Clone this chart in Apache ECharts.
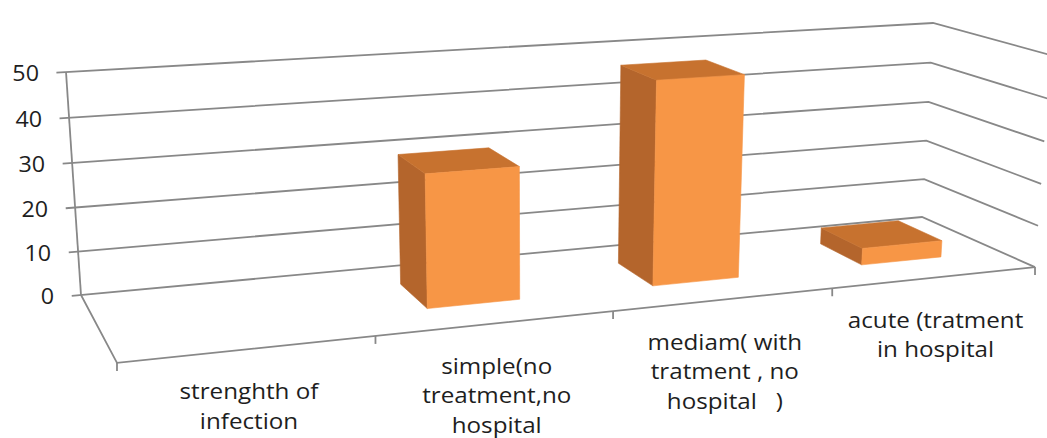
<!DOCTYPE html>
<html>
<head>
<meta charset="utf-8">
<script src="https://cdn.jsdelivr.net/npm/echarts@6/dist/echarts.min.js"></script>
<style>
  html, body { margin: 0; padding: 0; background: #ffffff; }
  #chart { width: 1047px; height: 438px; }
</style>
</head>
<body>
<div id="chart"></div>
<script>
// ---- data ----
const categories = [
  'strenghth of\ninfection',
  'simple(no\ntreatment,no\nhospital',
  'mediam( with\ntratment , no\nhospital   )',
  'acute (tratment\nin hospital'
];
const values = [null, 30, 47, 4];
const yTicks = [0, 10, 20, 30, 40, 50];
const yMax = 50;

// ---- 3-D box layout (screen pixels of the plot box corners) ----
const BACK = { bl: [81, 295], br: [922, 217], tr: [933, 23], tl: [66, 72] };
const FRONT = { l: [117, 363], r: [1035, 267] };
const BAR_WIDTH = 0.4;            // share of a category band (gap width 150%)
const BAR_Z = [0.3, 0.7];         // depth span of the columns (gap depth 150%)

const GRID_COLOR = '#888888';
const TEXT_COLOR = '#1e1e1e';
const FACE = { front: '#f79646', left: '#b4652c', top: '#c7722f' };
const FONT = '"Open Sans", "DejaVu Sans", sans-serif';

// Perspective camera: (u, w, z) in unit cube -> screen.
// u: along categories, w: along values, z: 0 back wall .. 1 front edge.
function buildCamera() {
  const [x0, y0] = BACK.bl, [x1, y1] = BACK.br, [x2, y2] = BACK.tr, [x3, y3] = BACK.tl;
  const dx1 = x1 - x2, dx2 = x3 - x2, dx3 = x0 - x1 + x2 - x3;
  const dy1 = y1 - y2, dy2 = y3 - y2, dy3 = y0 - y1 + y2 - y3;
  const den = dx1 * dy2 - dx2 * dy1;
  const g = (dx3 * dy2 - dx2 * dy3) / den;
  const h = (dx1 * dy3 - dx3 * dy1) / den;
  const p1 = [x1 - x0 + g * x1, y1 - y0 + g * y1, g];
  const p2 = [x3 - x0 + h * x3, y3 - y0 + h * y3, h];
  const p4 = [x0, y0, 1];
  // depth column from the two front corners (least squares)
  const A = p4, B = [p1[0] + p4[0], p1[1] + p4[1], p1[2] + p4[2]];
  const q5 = FRONT.l, q6 = FRONT.r;
  const rows = [
    [1, 0, -q5[0], q5[0] * A[2] - A[0]],
    [0, 1, -q5[1], q5[1] * A[2] - A[1]],
    [1, 0, -q6[0], q6[0] * B[2] - B[0]],
    [0, 1, -q6[1], q6[1] * B[2] - B[1]]
  ];
  const M = [[0, 0, 0], [0, 0, 0], [0, 0, 0]], v = [0, 0, 0];
  rows.forEach(r => {
    for (let i = 0; i < 3; i++) {
      v[i] += r[i] * r[3];
      for (let j = 0; j < 3; j++) M[i][j] += r[i] * r[j];
    }
  });
  const det3 = m => m[0][0] * (m[1][1] * m[2][2] - m[1][2] * m[2][1])
    - m[0][1] * (m[1][0] * m[2][2] - m[1][2] * m[2][0])
    + m[0][2] * (m[1][0] * m[2][1] - m[1][1] * m[2][0]);
  const D = det3(M);
  const p3 = [0, 1, 2].map(k => det3(M.map((row, i) => row.map((c, j) => (j === k ? v[i] : c)))) / D);
  return function (u, w, z) {
    const X = [0, 1, 2].map(i => p1[i] * u + p2[i] * w + p3[i] * z + p4[i]);
    return [X[0] / X[2], X[1] / X[2]];
  };
}
const P = buildCamera();

// Normalised position of a grid pixel inside the cartesian grid
function unitX(cs, px) { return (px - cs.x) / cs.width; }
function unitY(cs, py) { return (cs.y + cs.height - py) / cs.height; }

const chart = echarts.init(document.getElementById('chart'), null, { renderer: 'svg' });

const lineStyle = { stroke: GRID_COLOR, lineWidth: 1.8, fill: null };

chart.setOption({
  animation: false,
  backgroundColor: '#ffffff',
  grid: { left: 0, top: 0, width: 400, height: 500, show: false },
  xAxis: { type: 'category', data: categories, show: false },
  yAxis: { type: 'value', min: 0, max: yMax, interval: 10, show: false },
  series: [
    {
      // back wall + right wall gridlines and value labels
      type: 'custom',
      z: 1,
      data: yTicks.map(t => [0, t]),
      renderItem: function (params, api) {
        const cs = params.coordSys;
        const w = unitY(cs, api.coord([0, api.value(1)])[1]);
        const pts = [P(-0.0095, w, 0), P(1, w, 0), P(1, w, 1)];
        const anchor = P(0, w, 0);
        return {
          type: 'group',
          children: [
            { type: 'polyline', shape: { points: pts }, style: lineStyle },
            {
              type: 'text',
              x: anchor[0] - 27, y: anchor[1] + 1,
              scaleX: 1.06,
              style: {
                text: String(api.value(1)),
                x: 0, y: 0,
                align: 'right', verticalAlign: 'middle',
                font: '22px ' + FONT, fill: TEXT_COLOR
              }
            }
          ]
        };
      }
    },
    {
      // value axis, floor edges, category ticks and labels
      type: 'custom',
      z: 1,
      data: categories.map((c, i) => [i, 0]),
      renderItem: function (params, api) {
        const cs = params.coordSys;
        const i = api.value(0);
        const band = api.size([1, 0])[0];
        const c = api.coord([i, 0]);
        const uL = unitX(cs, c[0] - band / 2);
        const uC = unitX(cs, c[0]);
        const uR = unitX(cs, c[0] + band / 2);
        const children = [];
        const tickAt = u => {
          const p = P(u, 0, 1);
          children.push({ type: 'line', shape: { x1: p[0], y1: p[1], x2: p[0], y2: p[1] + 8 }, style: lineStyle });
        };
        tickAt(uR);
        if (i === 0) {
          tickAt(uL);
          const a = P(0, 0, 0), b = P(0, 1, 0), f = P(0, 0, 1), r = P(1, 0, 1);
          children.push({ type: 'line', shape: { x1: a[0], y1: a[1], x2: b[0], y2: b[1] }, style: lineStyle });
          children.push({ type: 'polyline', shape: { points: [a, f, r] }, style: lineStyle });
        }
        const lp = P(uC, 0, 1);
        children.push({
          type: 'text',
          x: lp[0], y: lp[1] + 27,
          scaleX: 1.1,
          style: {
            text: categories[i],
            x: 0, y: 0,
            align: 'center', verticalAlign: 'top',
            font: '22px ' + FONT, lineHeight: 29.5, fill: TEXT_COLOR
          }
        });
        return { type: 'group', children: children };
      }
    },
    {
      // 3-D columns
      type: 'custom',
      z: 3,
      data: values.map((v, i) => [i, v]),
      renderItem: function (params, api) {
        const cs = params.coordSys;
        const v = api.value(1);
        if (v == null || isNaN(v)) return null;
        const i = api.value(0);
        const band = api.size([1, 0])[0];
        const c = api.coord([i, 0]);
        const t = api.coord([i, v]);
        const u0 = unitX(cs, c[0] - band * BAR_WIDTH / 2);
        const u1 = unitX(cs, c[0] + band * BAR_WIDTH / 2);
        const w1 = unitY(cs, t[1]);
        const [z0, z1] = BAR_Z;
        const face = (pts, color) => ({
          type: 'polygon',
          shape: { points: pts },
          style: { fill: color, stroke: color, lineWidth: 0.6 }
        });
        return {
          type: 'group',
          children: [
            face([P(u0, 0, z0), P(u0, w1, z0), P(u0, w1, z1), P(u0, 0, z1)], FACE.left),
            face([P(u0, w1, z0), P(u1, w1, z0), P(u1, w1, z1), P(u0, w1, z1)], FACE.top),
            face([P(u0, 0, z1), P(u1, 0, z1), P(u1, w1, z1), P(u0, w1, z1)], FACE.front)
          ]
        };
      }
    }
  ]
});
</script>
</body>
</html>
